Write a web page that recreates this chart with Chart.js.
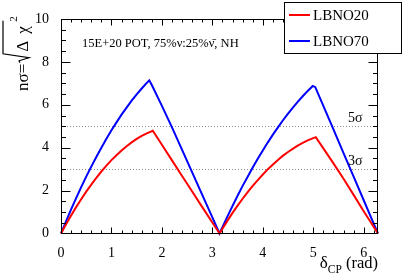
<!DOCTYPE html>
<html>
<head>
<meta charset="utf-8">
<script src="https://cdn.jsdelivr.net/npm/chart.js@4"></script>
<style>
  html, body { margin: 0; padding: 0; background: #fff; }
  canvas { display: block; }
</style>
</head>
<body>
<canvas id="c" width="407" height="276"></canvas>
<script>
// delta_CP (rad) and n sigma
const dcp20 = [0, 0.1, 0.2, 0.3, 0.4, 0.5, 0.6, 0.7, 0.8, 0.9, 1.0, 1.1, 1.2, 1.3, 1.4, 1.5, 1.6, 1.7, 1.82,
  2.0, 2.2, 2.4, 2.6, 2.8, 3.0, 3.1416,
  3.3, 3.4, 3.5, 3.6, 3.7, 3.8, 3.9, 4.0, 4.1, 4.2, 4.3, 4.4, 4.5, 4.6, 4.7, 4.8, 4.9, 5.05,
  5.2, 5.4, 5.6, 5.8, 6.0, 6.2, 6.2832];
const sig20 = [0, 0.43, 0.84, 1.23, 1.6, 1.95, 2.28, 2.59, 2.89, 3.16, 3.42, 3.65, 3.87, 4.07, 4.25, 4.41, 4.55, 4.67, 4.79,
  4.14, 3.41, 2.68, 1.96, 1.23, 0.51, 0,
  0.6, 0.96, 1.3, 1.62, 1.93, 2.22, 2.49, 2.75, 3.0, 3.22, 3.43, 3.63, 3.8, 3.96, 4.11, 4.24, 4.35, 4.49,
  3.97, 3.27, 2.55, 1.8, 1.04, 0.3, 0];

const dcp70 = [0, 0.1, 0.2, 0.3, 0.4, 0.5, 0.6, 0.7, 0.8, 0.9, 1.0, 1.1, 1.2, 1.3, 1.4, 1.5, 1.6, 1.7, 1.75, 1.8,
  2.0, 2.2, 2.4, 2.6, 2.8, 3.0, 3.1416,
  3.3, 3.4, 3.5, 3.6, 3.7, 3.8, 3.9, 4.0, 4.1, 4.2, 4.3, 4.4, 4.5, 4.6, 4.7, 4.8, 4.9, 4.99, 5.04,
  5.2, 5.4, 5.6, 5.8, 6.0, 6.2, 6.2832];
const sig70 = [0, 0.57, 1.12, 1.65, 2.16, 2.65, 3.12, 3.57, 4.0, 4.42, 4.81, 5.18, 5.54, 5.87, 6.19, 6.49, 6.76, 7.02, 7.14, 6.92,
  5.95, 4.95, 3.9, 2.85, 1.8, 0.75, 0,
  0.8, 1.29, 1.76, 2.22, 2.65, 3.08, 3.48, 3.87, 4.25, 4.61, 4.95, 5.28, 5.59, 5.88, 6.16, 6.42, 6.67, 6.88, 6.82,
  5.95, 4.85, 3.75, 2.65, 1.55, 0.45, 0];

const seriesNames = ['LBNO20', 'LBNO70'];
const seriesColors = ['#ff0000', '#0000ff'];
const xTicks = [0, 1, 2, 3, 4, 5, 6];
const sigmaLevels = [5, 3];
const sigmaLabels = ['5\u03c3', '3\u03c3'];
const infoText = '15E+20 POT, 75%\u03bd:25%\u03bd\u0304, NH';

const serif = '"Liberation Serif", "Times New Roman", serif';

const pts = (xs, ys) => xs.map((x, i) => ({ x: x, y: ys[i] }));

const line = (ctx, x1, y1, x2, y2) => {
  ctx.beginPath(); ctx.moveTo(x1, y1); ctx.lineTo(x2, y2); ctx.stroke();
};

const rootStyle = {
  id: 'rootStyle',
  beforeDatasetsDraw(chart) {
    const { ctx, chartArea: a, scales: { y } } = chart;
    ctx.save();
    ctx.strokeStyle = '#8c8c8c';
    ctx.lineWidth = 1;
    ctx.setLineDash([1, 2]);
    for (const s of sigmaLevels) {
      const py = Math.round(y.getPixelForValue(s)) + 0.5;
      line(ctx, a.left, py, a.right, py);
    }
    ctx.restore();
  },
  afterDatasetsDraw(chart) {
    const { ctx, chartArea: a, scales: { x, y } } = chart;
    ctx.save();
    ctx.strokeStyle = '#000';
    ctx.lineWidth = 1;
    const L = Math.round(a.left) + 0.5, R = Math.round(a.right) - 0.5;
    const T = Math.round(a.top) + 0.5, B = Math.round(a.bottom) - 0.5;
    ctx.strokeRect(L, T, R - L, B - T);
    // x ticks, every 0.2, major every 1
    for (let i = 1; i <= 31; i++) {
      const px = Math.round(x.getPixelForValue(i * 0.2)) + 0.5;
      const len = i % 5 === 0 ? 6 : 3;
      line(ctx, px, B, px, B - len);
      line(ctx, px, T, px, T + len);
    }
    // y ticks, every 0.5, major every 2
    for (let i = 1; i < 20; i++) {
      const py = Math.round(y.getPixelForValue(i * 0.5)) + 0.5;
      const len = i % 4 === 0 ? 9 : 4.5;
      line(ctx, L, py, L + len, py);
      line(ctx, R, py, R - len, py);
    }
    ctx.restore();
  },
  afterDraw(chart) {
    const { ctx, chartArea: a, scales: { y } } = chart;
    ctx.save();
    ctx.fillStyle = '#000';
    ctx.textBaseline = 'alphabetic';

    // info text
    ctx.font = '12.5px ' + serif;
    ctx.fillText(infoText, 82, 47);

    // sigma labels
    ctx.font = '14px ' + serif;
    sigmaLevels.forEach((s, i) => {
      ctx.fillText(sigmaLabels[i], 348, y.getPixelForValue(s) - 4);
    });

    // x title: delta_CP (rad)
    ctx.textAlign = 'right';
    let xr = a.right;
    ctx.font = '16.5px ' + serif;
    ctx.fillText(' (rad)', xr, 268);
    xr -= ctx.measureText(' (rad)').width;
    ctx.font = '11.5px ' + serif;
    ctx.fillText('CP', xr, 273);
    xr -= ctx.measureText('CP').width;
    ctx.font = '17px ' + serif;
    ctx.fillText('\u03b4', xr, 268);

    // y title: n sigma = sqrt(Delta chi^2)
    ctx.textAlign = 'left';
    ctx.translate(28, 91);
    ctx.rotate(-Math.PI / 2);
    ctx.font = '17px ' + serif;
    ctx.fillText('n\u03c3=', 0, 0);
    const lx = ctx.measureText('n\u03c3=').width + 1;
    ctx.strokeStyle = '#000';
    ctx.lineWidth = 1.2;
    ctx.beginPath();
    ctx.moveTo(lx, -8);
    ctx.lineTo(lx + 2, -9);
    ctx.lineTo(lx + 5, 1);
    ctx.lineTo(lx + 9, -25);
    ctx.lineTo(lx + 42, -25);
    ctx.stroke();
    ctx.fillText('\u0394', lx + 11, 0);
    ctx.fillText('\u03c7', lx + 29, 0);
    ctx.font = '11px ' + serif;
    ctx.fillText('2', lx + 41, -11);
    ctx.setTransform(1, 0, 0, 1, 0, 0);

    // legend box
    ctx.fillStyle = '#fff';
    ctx.fillRect(284.5, 2.5, 117, 51);
    ctx.strokeStyle = '#000';
    ctx.lineWidth = 1;
    ctx.strokeRect(284.5, 2.5, 117, 51);
    ctx.font = '15px ' + serif;
    ctx.textBaseline = 'middle';
    chart.data.datasets.forEach((ds, i) => {
      const ly = 15 + i * 26;
      ctx.strokeStyle = ds.borderColor;
      ctx.lineWidth = 2;
      line(ctx, 289, ly, 310, ly);
      ctx.fillStyle = '#000';
      ctx.fillText(ds.label, 313, ly + 1);
    });
    ctx.restore();
  }
};

new Chart(document.getElementById('c'), {
  type: 'line',
  data: {
    datasets: [
      { label: seriesNames[0], data: pts(dcp20, sig20), borderColor: seriesColors[0] },
      { label: seriesNames[1], data: pts(dcp70, sig70), borderColor: seriesColors[1] }
    ]
  },
  options: {
    responsive: false,
    devicePixelRatio: 1,
    animation: false,
    datasets: { line: { borderWidth: 2, pointRadius: 0, tension: 0, fill: false, clip: false } },
    layout: { padding: { left: 0, right: 29, top: 19, bottom: 0 } },
    plugins: { legend: { display: false }, tooltip: { enabled: false } },
    scales: {
      x: {
        type: 'linear',
        min: 0,
        max: 2 * Math.PI,
        afterBuildTicks: s => { s.ticks = xTicks.map(v => ({ value: v })); },
        afterFit: s => { s.height = 42.5; },
        grid: { display: false },
        border: { display: false },
        ticks: { color: '#000', font: { family: serif, size: 14 }, padding: 3, maxRotation: 0, autoSkip: false }
      },
      y: {
        type: 'linear',
        min: 0,
        max: 10,
        afterFit: s => { s.width = 61; },
        grid: { display: false },
        border: { display: false },
        ticks: { stepSize: 2, color: '#000', font: { family: serif, size: 14 }, padding: 4 }
      }
    }
  },
  plugins: [rootStyle]
});
</script>
</body>
</html>
